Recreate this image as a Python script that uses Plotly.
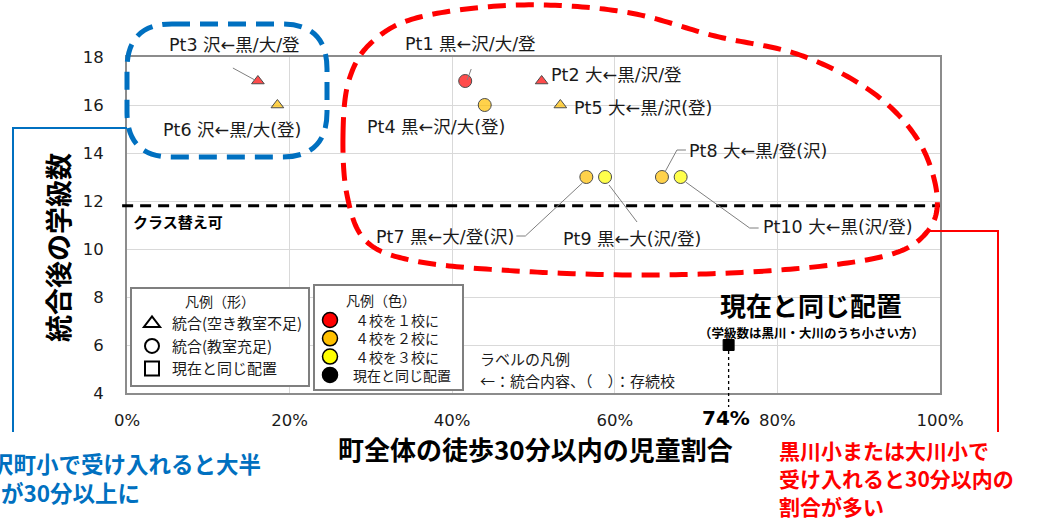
import numpy as np
import plotly.graph_objects as go

# ------------------------------------------------------------------ data
point_labels = [
    "Pt1 黒←沢/大/登", "Pt2 大←黒/沢/登", "Pt3 沢←黒/大/登", "Pt4 黒←沢/大(登)",
    "Pt5 大←黒/沢(登)", "Pt6 沢←黒/大(登)", "Pt7 黒←大/登(沢)", "Pt8 大←黒/登(沢)",
    "Pt9 黒←大(沢/登)", "Pt10 大←黒(沢/登)",
]
walk30_ratio = [0.416, 0.510, 0.161, 0.440, 0.533, 0.185, 0.565, 0.658, 0.588, 0.681]
classes_after = [17, 17, 17, 16, 16, 16, 13, 13, 13, 13]
integration_type = [
    "統合(教室充足)", "統合(空き教室不足)", "統合(空き教室不足)", "統合(教室充足)",
    "統合(空き教室不足)", "統合(空き教室不足)", "統合(教室充足)", "統合(教室充足)",
    "統合(教室充足)", "統合(教室充足)",
]
school_count_type = [
    "４校を１校に", "４校を１校に", "４校を１校に", "４校を２校に", "４校を２校に",
    "４校を２校に", "４校を２校に", "４校を２校に", "４校を３校に", "４校を３校に",
]

current_name = "現在と同じ配置"
current_ratio = [0.74]
current_classes = [6]

class_change_threshold = 11.8
class_change_text = "クラス替え可"

x_tick_vals = [0.0, 0.2, 0.4, 0.6, 0.8, 1.0]
x_tick_text = ["0%", "20%", "40%", "60%", "80%", "100%"]
y_tick_vals = [4, 6, 8, 10, 12, 14, 16, 18]

shape_legend_title = "凡例（形）"
shape_legend_items = ["統合(空き教室不足)", "統合(教室充足)", "現在と同じ配置"]
color_legend_title = "凡例（色）"
color_legend_items = ["４校を１校に", "４校を２校に", "４校を３校に", "現在と同じ配置"]

x_title = "町全体の徒歩30分以内の児童割合"
y_title = "統合後の学級数"
current_title = "現在と同じ配置"
current_sub = "（学級数は黒川・大川のうち小さい方）"
label_legend_lines = ["ラベルの凡例", "←：統合内容、（　）：存続校"]
blue_note = ["沢町小で受け入れると大半", "が30分以上に"]
red_note = ["黒川小または大川小で", "受け入れると30分以内の", "割合が多い"]

# ------------------------------------------------------------------ style
W, H = 1049, 520
ML, MR, MT, MB = 127, 109, 57, 127
PW, PH = W - ML - MR, H - MT - MB
CJK = "Noto Sans CJK JP"
LAB = "DejaVu Sans, Noto Sans CJK JP"

SYMBOL = {"統合(空き教室不足)": "triangle-up", "統合(教室充足)": "circle", "現在と同じ配置": "square"}
MSIZE = {"統合(空き教室不足)": 11, "統合(教室充足)": 13, "現在と同じ配置": 11}
COLOR = {"４校を１校に": "#FF0000", "４校を２校に": "#FFC000", "４校を３校に": "#FFFF00",
         "現在と同じ配置": "#000000"}
BLUE, RED = "#0070C0", "#FF0000"


def fx(px):
    return (px - ML) / PW


def fy(py):
    return (H - MB - py) / PH


def closed_spline(pts, n=24):
    p = np.asarray(pts, float)
    out = []
    for i in range(len(p)):
        p0, p1, p2, p3 = p[i - 1], p[i], p[(i + 1) % len(p)], p[(i + 2) % len(p)]
        for s in np.linspace(0, 1, n, endpoint=False):
            out.append(0.5 * (2 * p1 + (p2 - p0) * s + (2 * p0 - 5 * p1 + 4 * p2 - p3) * s * s
                              + (3 * p1 - p0 - 3 * p2 + p3) * s ** 3))
    return np.array(out)


# label placement: (xanchor, xshift, yshift) and leader path (pixel offsets, up = +)
label_layout = [
    ("center", 5, 37, "M6,12 L2,1"),
    ("left", 7, 6, None),
    ("center", -23, 36, "M-25,13 L-3,1"),
    ("center", -49, -22, None),
    ("left", 12, -3, None),
    ("center", -45, -25, None),
    ("right", -70, -60, "M-70,-59 L-61,-59 L-4,-6"),
    ("left", 25, 26, "M24,27 L15,27 L3,5"),
    ("center", 27, -62, "M4,-8 L32,-45"),
    ("left", 80, -50, "M5,-5 L69,-51 L78,-51"),
]

fig = go.Figure()

# data points
fig.add_trace(go.Scatter(
    x=walk30_ratio, y=classes_after, mode="markers", text=point_labels,
    hoverinfo="text", showlegend=False,
    marker=dict(symbol=[SYMBOL[t] for t in integration_type],
                size=[MSIZE[t] for t in integration_type],
                color=[COLOR[c] for c in school_count_type],
                line=dict(color="black", width=1)),
))
fig.add_trace(go.Scatter(
    x=current_ratio, y=current_classes, mode="markers", text=[current_name],
    hoverinfo="text", showlegend=False,
    marker=dict(symbol=SYMBOL[current_name], size=MSIZE[current_name],
                color=COLOR[current_name], line=dict(color="black", width=1)),
))

# shape legend entries (native legend)
for item in shape_legend_items:
    fig.add_trace(go.Scatter(
        x=[None], y=[None], mode="markers", name=item, legend="legend",
        marker=dict(symbol=SYMBOL[item] + "-open", size=14, color="black",
                    line=dict(color="black", width=2)),
    ))

shapes = []
annotations = []


def note(text, px, py, size, color="#1a1a1a", bold=False, xanchor="left", angle=0, family=CJK):
    annotations.append(dict(xref="paper", yref="paper", x=fx(px), y=fy(py), xanchor=xanchor,
                            yanchor="middle", showarrow=False, text=text, textangle=angle,
                            borderpad=0,
                            font=dict(family=family, size=size, color=color,
                                      weight="bold" if bold else "normal")))


# threshold line
shapes.append(dict(type="line", xref="paper", yref="y", x0=-0.006, x1=1.0,
                   y0=class_change_threshold, y1=class_change_threshold,
                   line=dict(color="black", width=3, dash="11px,7px")))
annotations.append(dict(xref="paper", yref="y", x=fx(131), y=class_change_threshold,
                        yshift=-16, xanchor="left", yanchor="middle", showarrow=False,
                        text=class_change_text,
                        font=dict(family=CJK, size=15, color="black", weight="bold")))

# leader lines + labels
for i, lab in enumerate(point_labels):
    xa, xs, ys, path = label_layout[i]
    if path:
        shapes.append(dict(type="path", xref="x", yref="y", xsizemode="pixel",
                           ysizemode="pixel", xanchor=walk30_ratio[i],
                           yanchor=classes_after[i], path=path,
                           line=dict(color="#7f7f7f", width=1)))
    annotations.append(dict(xref="x", yref="y", x=walk30_ratio[i], y=classes_after[i],
                            xanchor=xa, yanchor="middle", xshift=xs, yshift=ys,
                            showarrow=False, text=lab,
                            font=dict(family=LAB, size=17.5, color="#1a1a1a")))

# current-placement dotted drop line + labels
cur_frac = (current_classes[0] - y_tick_vals[0]) / (y_tick_vals[-1] - y_tick_vals[0])
shapes.append(dict(type="line", xref="x", yref="paper", x0=current_ratio[0],
                   x1=current_ratio[0], y0=cur_frac, y1=fy(407),
                   line=dict(color="black", width=1.3, dash="3px,3px")))
annotations.append(dict(xref="x", yref="paper", x=current_ratio[0], y=fy(418),
                        xanchor="center", yanchor="middle", xshift=-3, showarrow=False,
                        text=f"{current_ratio[0] * 100:.0f}%",
                        font=dict(family="DejaVu Sans", size=20, color="black", weight="bold")))
annotations.append(dict(xref="x", yref="y", x=current_ratio[0], y=current_classes[0],
                        xanchor="center", yanchor="middle", xshift=82, yshift=41,
                        showarrow=False, text=current_title, borderpad=0,
                        font=dict(family=CJK, size=26, color="black", weight="bold")))
annotations.append(dict(xref="x", yref="y", x=current_ratio[0], y=current_classes[0],
                        xanchor="center", yanchor="middle", xshift=83, yshift=13,
                        showarrow=False, text=current_sub, borderpad=0,
                        font=dict(family=CJK, size=12.5, color="black", weight="bold")))

# label legend text
for k, line in enumerate(label_legend_lines):
    note(line, 479, 358 + 22 * k, 15)

# colour legend box (drawn)
shapes.append(dict(type="rect", xref="paper", yref="paper", x0=fx(314), x1=fx(463),
                   y0=fy(285), y1=fy(390), fillcolor="white",
                   line=dict(color="#7f7f7f", width=2)))
note(color_legend_title, 381, 300, 14, xanchor="center")
for k, item in enumerate(color_legend_items):
    cy_px = 320 + 18.3 * k
    shapes.append(dict(type="circle", xref="paper", yref="paper", xsizemode="pixel",
                       ysizemode="pixel", xanchor=fx(330), yanchor=fy(cy_px),
                       x0=-7.5, x1=7.5, y0=-7.5, y1=7.5, fillcolor=COLOR[item],
                       line=dict(color="black", width=1.5)))
    note(item, 352 if item == current_name else 354, cy_px, 14)

# axis titles
note(y_title, 57, 248, 27, color="black", bold=True, xanchor="center", angle=-90)
note(x_title, 535, 448, 26, color="black", bold=True, xanchor="center")

# blue rounded dashed box + connector + note
bx0, bx1, by0, by1, r = 127, 327, 24, 157, 45
blue_path = (f"M {fx(bx0 + r)},{fy(by0)} L {fx(bx1 - r)},{fy(by0)} "
             f"Q {fx(bx1)},{fy(by0)} {fx(bx1)},{fy(by0 + r)} L {fx(bx1)},{fy(by1 - r)} "
             f"Q {fx(bx1)},{fy(by1)} {fx(bx1 - r)},{fy(by1)} L {fx(bx0 + r)},{fy(by1)} "
             f"Q {fx(bx0)},{fy(by1)} {fx(bx0)},{fy(by1 - r)} L {fx(bx0)},{fy(by0 + r)} "
             f"Q {fx(bx0)},{fy(by0)} {fx(bx0 + r)},{fy(by0)} Z")
shapes.append(dict(type="path", xref="paper", yref="paper", path=blue_path,
                   line=dict(color=BLUE, width=5, dash="18px,10px")))
shapes.append(dict(type="path", xref="paper", yref="paper",
                   path=f"M {fx(127)},{fy(128)} L {fx(13)},{fy(128)} L {fx(13)},{fy(432)}",
                   line=dict(color=BLUE, width=2)))
note(blue_note[0], -10, 463, 22.5, color=BLUE, bold=True)
note(blue_note[1], 0, 492, 22.5, color=BLUE, bold=True)

# red dashed loop + connector + note
red_anchor = [(343, 135), (349, 80), (372, 42), (420, 17), (520, 5), (625, 12), (715, 36),
              (800, 55), (872, 92), (918, 140), (937, 195), (927, 232), (885, 256),
              (780, 270), (640, 275), (500, 270), (410, 260), (365, 240), (347, 195)]
loop = closed_spline(red_anchor)
red_path = "M " + " L ".join(f"{fx(u):.5f},{fy(v):.5f}" for u, v in loop) + " Z"
shapes.append(dict(type="path", xref="paper", yref="paper", path=red_path,
                   line=dict(color=RED, width=5, dash="18px,10px")))
shapes.append(dict(type="path", xref="paper", yref="paper",
                   path=f"M {fx(926)},{fy(231)} L {fx(998)},{fy(231)} L {fx(998)},{fy(432)}",
                   line=dict(color=RED, width=2)))
for line, py in zip(red_note, [450, 478, 506]):
    note(line, 778, py, 21, color=RED, bold=True)

fig.update_layout(
    width=W, height=H, margin=dict(l=ML, r=MR, t=MT, b=MB),
    paper_bgcolor="white", plot_bgcolor="white",
    showlegend=True,
    legend=dict(x=fx(130), y=fy(287), xanchor="left", yanchor="top", bgcolor="white",
                bordercolor="#7f7f7f", borderwidth=2,
                font=dict(family=CJK, size=15, color="#1a1a1a"),
                itemsizing="trace", tracegroupgap=0,
                title=dict(text=shape_legend_title, side="top center",
                           font=dict(family=CJK, size=14))),
    xaxis=dict(range=[0, 1], tickvals=x_tick_vals, ticktext=x_tick_text,
               showgrid=True, gridcolor="#d9d9d9", gridwidth=1, zeroline=False,
               showline=True, mirror=True, linecolor="#8c8c8c", linewidth=2,
               ticks="", ticklabelstandoff=11,
               tickfont=dict(family="DejaVu Sans", size=16.5, color="#1a1a1a")),
    yaxis=dict(range=[4, 18], tickvals=y_tick_vals,
               showgrid=True, gridcolor="#d9d9d9", gridwidth=1, zeroline=False,
               showline=True, mirror=True, linecolor="#8c8c8c", linewidth=2,
               ticks="", ticklabelstandoff=18,
               tickfont=dict(family="DejaVu Sans", size=16.5, color="#1a1a1a")),
    shapes=shapes, annotations=annotations,
)

fig.write_html("out.html", config={"displayModeBar": False},
               post_script="document.body.style.margin='0px';")
